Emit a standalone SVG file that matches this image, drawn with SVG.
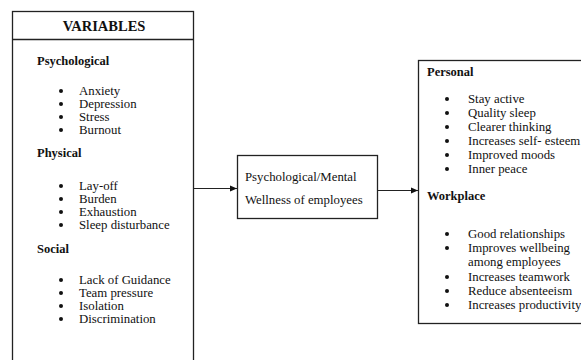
<svg xmlns="http://www.w3.org/2000/svg" width="581" height="360" viewBox="0 0 581 360">
<style>
text{font-family:"Liberation Serif","DejaVu Serif","Times New Roman",serif;font-size:12.8px;fill:#111}
.h{font-weight:bold;font-size:12.5px}
.t{font-weight:bold;font-size:14.5px}
.box{fill:#fff;stroke:#222;stroke-width:1.3}
.ln{stroke:#222;stroke-width:1;fill:none}
.b{fill:#111}
</style>
<defs>
<marker id="ah" markerWidth="8" markerHeight="8" refX="7" refY="4" orient="auto" markerUnits="userSpaceOnUse">
<path d="M0,1 L7,4 L0,7 z" fill="#111"/>
</marker>
</defs>
<rect width="581" height="360" fill="#fff"/>
<g id="variables">
<rect class="box" x="12.5" y="11.5" width="181" height="350"/>
<line class="ln" x1="12.5" y1="39.5" x2="193.5" y2="39.5" style="stroke-width:1.3"/>
<text class="t" x="104" y="30.5" text-anchor="middle">VARIABLES</text>
<text class="h" x="37" y="65">Psychological</text>
<g>
<circle class="b" cx="61" cy="91" r="2"/><text x="79" y="95">Anxiety</text>
<circle class="b" cx="61" cy="104" r="2"/><text x="79" y="108">Depression</text>
<circle class="b" cx="61" cy="117" r="2"/><text x="79" y="121">Stress</text>
<circle class="b" cx="61" cy="130" r="2"/><text x="79" y="134">Burnout</text>
</g>
<text class="h" x="37" y="157">Physical</text>
<g>
<circle class="b" cx="61" cy="186" r="2"/><text x="79" y="190">Lay-off</text>
<circle class="b" cx="61" cy="199" r="2"/><text x="79" y="203">Burden</text>
<circle class="b" cx="61" cy="212" r="2"/><text x="79" y="216">Exhaustion</text>
<circle class="b" cx="61" cy="225" r="2"/><text x="79" y="229">Sleep disturbance</text>
</g>
<text class="h" x="37" y="253">Social</text>
<g>
<circle class="b" cx="61" cy="280" r="2"/><text x="79" y="284">Lack of Guidance</text>
<circle class="b" cx="61" cy="293" r="2"/><text x="79" y="297">Team pressure</text>
<circle class="b" cx="61" cy="306" r="2"/><text x="79" y="310">Isolation</text>
<circle class="b" cx="61" cy="319" r="2"/><text x="79" y="323">Discrimination</text>
</g>
</g>
<g id="wellness">
<rect class="box" x="237.5" y="155.5" width="140" height="63"/>
<text x="245" y="181">Psychological/Mental</text>
<text x="245" y="204">Wellness of employees</text>
</g>
<g id="outcomes">
<rect class="box" x="418.5" y="60.5" width="180" height="263"/>
<text class="h" x="427" y="76">Personal</text>
<circle class="b" cx="447" cy="99" r="2"/><text x="468" y="103">Stay active</text>
<circle class="b" cx="447" cy="113" r="2"/><text x="468" y="117">Quality sleep</text>
<circle class="b" cx="447" cy="127" r="2"/><text x="468" y="131">Clearer thinking</text>
<circle class="b" cx="447" cy="141" r="2"/><text x="468" y="145">Increases self- esteem</text>
<circle class="b" cx="447" cy="155" r="2"/><text x="468" y="159">Improved moods</text>
<circle class="b" cx="447" cy="169" r="2"/><text x="468" y="173">Inner peace</text>
<text class="h" x="427" y="200">Workplace</text>
<circle class="b" cx="447" cy="234" r="2"/><text x="468" y="238">Good relationships</text>
<circle class="b" cx="447" cy="248" r="2"/><text x="468" y="252">Improves wellbeing</text>
<text x="468" y="266">among employees</text>
<circle class="b" cx="447" cy="277" r="2"/><text x="468" y="281">Increases teamwork</text>
<circle class="b" cx="447" cy="291" r="2"/><text x="468" y="295">Reduce absenteeism</text>
<circle class="b" cx="447" cy="305" r="2"/><text x="468" y="309">Increases productivity</text>
</g>
<g id="connectors">
<line class="ln" x1="194" y1="188.5" x2="237" y2="188.5" marker-end="url(#ah)"/>
<line class="ln" x1="378" y1="190.5" x2="418" y2="190.5" marker-end="url(#ah)"/>
</g>
</svg>
